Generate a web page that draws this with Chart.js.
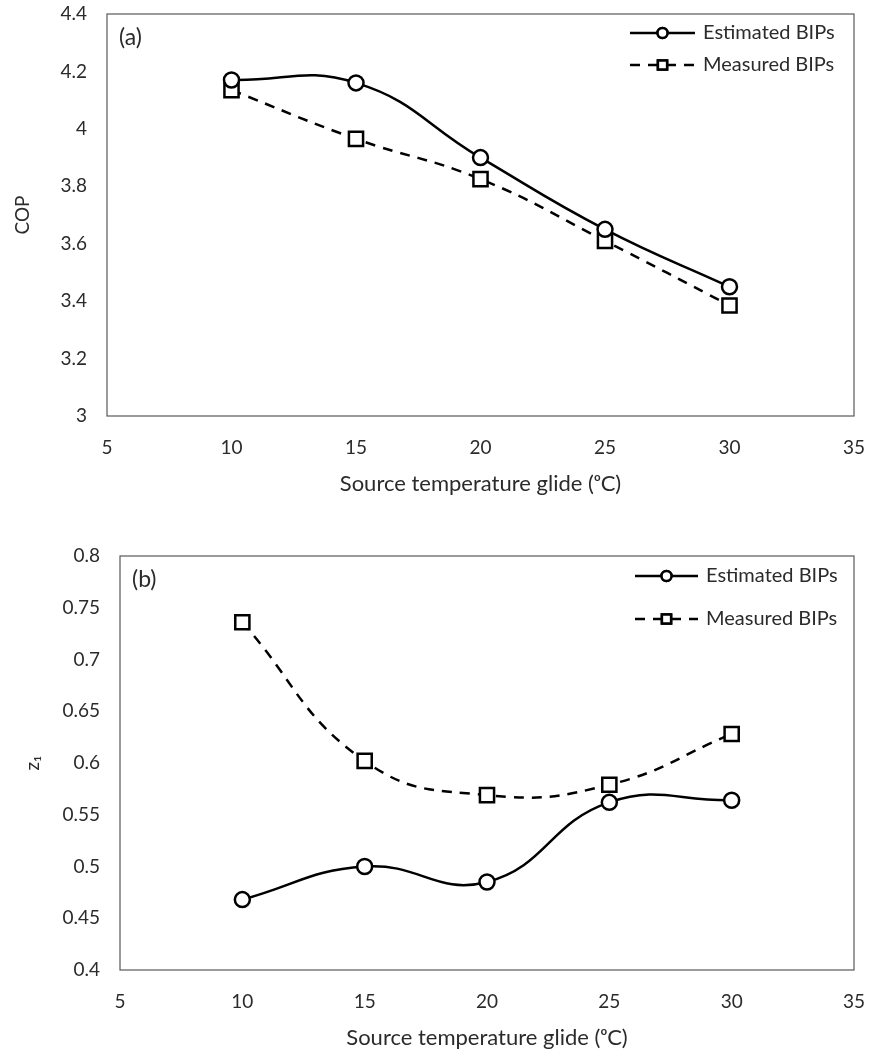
<!DOCTYPE html>
<html>
<head>
<meta charset="utf-8">
<title>COP and z1 vs source temperature glide</title>
<script src="https://cdn.jsdelivr.net/npm/chart.js@4.4.1/dist/chart.umd.min.js"></script>
<style>
  html, body { margin: 0; padding: 0; background: #fff; }
  .panel { position: absolute; left: 0; width: 869px; }
</style>
</head>
<body>
<div class="panel" style="top:0;height:500px"><canvas id="copChart" width="869" height="500"></canvas></div>
<div class="panel" style="top:520px;height:531px"><canvas id="z1Chart" width="869" height="531"></canvas></div>
<script>
// source temperature glide, degC
const glide = [10, 15, 20, 25, 30];

// panel (a): COP
const copEstimated = [4.17, 4.16, 3.90, 3.65, 3.45];
const copMeasured = [4.135, 3.965, 3.825, 3.61, 3.385];

// panel (b): z1
const z1Estimated = [0.468, 0.500, 0.485, 0.562, 0.564];
const z1Measured = [0.736, 0.602, 0.569, 0.579, 0.628];

const seriesNames = ['Estimated BIPs', 'Measured BIPs'];
const xTitle = 'Source temperature glide (ᵒC)';

const FONT = 'Lato, "Open Sans", sans-serif';
const TEXT = '#2b2b2b';

function pts(values) {
  return glide.map((x, i) => ({ x: x, y: values[i] }));
}

// frame around the plot area, panel tag and the line+marker legend
const panelDecor = {
  id: 'panelDecor',
  afterDraw(chart, args, opts) {
    const ctx = chart.ctx;
    const a = chart.chartArea;
    ctx.save();
    ctx.strokeStyle = '#595959';
    ctx.lineWidth = 1.2;
    ctx.strokeRect(a.left, a.top, a.right - a.left, a.bottom - a.top);

    ctx.fillStyle = TEXT;
    ctx.font = '23px ' + FONT;
    ctx.textBaseline = 'middle';
    ctx.textAlign = 'left';
    ctx.fillText(opts.tag, a.left + 12, a.top + 24);

    ctx.font = '20px ' + FONT;
    chart.data.datasets.forEach((ds, i) => {
      const y = opts.rows[i];
      ctx.strokeStyle = '#000';
      ctx.lineWidth = 2.5;
      ctx.setLineDash(ds.borderDash || []);
      ctx.beginPath();
      ctx.moveTo(opts.lineFrom, y);
      ctx.lineTo(opts.lineTo, y);
      ctx.stroke();
      ctx.setLineDash([]);
      ctx.fillStyle = '#fff';
      Chart.helpers.drawPoint(ctx, {
        pointStyle: ds.pointStyle,
        radius: ds.pointStyle === 'rect' ? 6.5 : 5,
        borderWidth: 2.5,
        rotation: 0
      }, (opts.lineFrom + opts.lineTo) / 2, y);
      ctx.fill();
      ctx.stroke();
      ctx.fillStyle = TEXT;
      ctx.fillText(ds.label, opts.textX, y);
    });
    ctx.restore();
  }
};

function tickText(v) {
  return String(parseFloat(v.toFixed(2)));
}

function makeChart(id, est, meas, yMin, yMax, yStep, yTitle, box, decor) {
  new Chart(document.getElementById(id).getContext('2d'), {
    type: 'line',
    data: {
      datasets: [{
        label: seriesNames[0],
        data: pts(est),
        borderColor: '#000',
        borderWidth: 2.5,
        tension: 0.45,
        pointStyle: 'circle',
        pointRadius: 7.5,
        pointBorderWidth: 2.5,
        pointBackgroundColor: '#fff',
        pointBorderColor: '#000'
      }, {
        label: seriesNames[1],
        data: pts(meas),
        borderColor: '#000',
        borderWidth: 2.5,
        borderDash: [10, 8],
        tension: 0.45,
        pointStyle: 'rect',
        pointRadius: 10,
        pointBorderWidth: 2.5,
        pointBackgroundColor: '#fff',
        pointBorderColor: '#000'
      }]
    },
    options: {
      responsive: false,
      animation: false,
      devicePixelRatio: 1,
      layout: { padding: { top: box.top, right: 15, left: 0, bottom: 0 } },
      plugins: {
        legend: { display: false },
        tooltip: { enabled: false },
        panelDecor: decor
      },
      scales: {
        x: {
          type: 'linear',
          min: 5,
          max: 35,
          grid: { display: false, drawTicks: false },
          border: { display: false },
          ticks: { stepSize: 5, padding: 20, color: TEXT, font: { family: FONT, size: 19 } },
          title: {
            display: true,
            text: xTitle,
            color: TEXT,
            font: { family: FONT, size: 22 },
            padding: { top: 0, bottom: box.titleBottom }
          },
          afterFit: s => {
            s.height = box.xHeight;
            s.paddingLeft = 0;
            s.paddingRight = 0;
          }
        },
        y: {
          min: yMin,
          max: yMax,
          grid: { display: false, drawTicks: false },
          border: { display: false },
          ticks: {
            stepSize: yStep,
            padding: 20,
            color: TEXT,
            font: { family: FONT, size: 19 },
            callback: tickText
          },
          title: {
            display: true,
            text: yTitle,
            color: TEXT,
            font: { family: FONT, size: 19 },
            padding: { top: box.yTitleLeft, bottom: 0 }
          },
          afterFit: s => {
            s.width = box.yWidth;
            s.paddingTop = 0;
            s.paddingBottom = 0;
          }
        }
      }
    },
    plugins: [panelDecor]
  });
}

makeChart('copChart', copEstimated, copMeasured, 3, 4.4, 0.2, 'COP',
  { top: 14, xHeight: 84, titleBottom: 3, yWidth: 107, yTitleLeft: 11 },
  { tag: '(a)', rows: [33, 65], lineFrom: 630, lineTo: 695, textX: 703 });

makeChart('z1Chart', z1Estimated, z1Measured, 0.4, 0.8, 0.05, 'z₁',
  { top: 36, xHeight: 81, titleBottom: 0, yWidth: 120, yTitleLeft: 21 },
  { tag: '(b)', rows: [56, 99], lineFrom: 635, lineTo: 698, textX: 706 });
</script>
</body>
</html>
